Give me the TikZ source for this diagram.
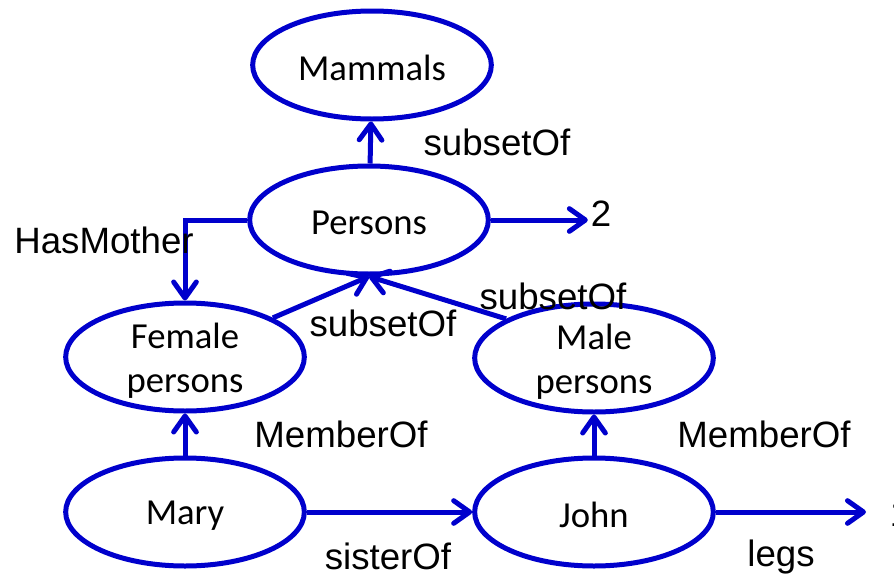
\documentclass[tikz,border=0pt]{standalone}
\usepackage{fontspec}
\setmainfont{Liberation Sans}
\newfontfamily\calibrifont{Carlito}
\usepackage{tikz}
\usetikzlibrary{shapes.geometric,arrows.meta}
\definecolor{netblue}{RGB}{0,0,204}

\begin{document}
\begin{tikzpicture}[x=0.75pt, y=-0.75pt,
  every node/.style={font=\fontsize{27.5}{33}\selectfont, inner sep=2pt},
  concept/.style={ellipse, draw=netblue, line width=3.75pt, minimum width=179pt, minimum height=81pt, inner sep=0pt},
  caption/.style={align=center, yshift=-2.5pt, font=\calibrifont\fontsize{27.5}{33}\selectfont},
  rel/.style={draw=netblue, line width=3.75pt, -{Straight Barb[length=12pt,width=17pt,round]}}]
  \useasboundingbox (0,0) rectangle (894,575);
  \foreach \n/\x/\y/\t in {mammals/372/65/Mammals, persons/369/220/Persons,
      female/185/357/{Female\\persons}, male/594/358/{Male\\persons},
      mary/185/512/Mary, john/594/512/John}{
    \node[concept] (\n) at (\x,\y) {};
    \node[caption] (\n-text) at (\n) {\t};
  }
  \node (two) at (601,214) {2};
  \node[anchor=west] (one) at (887,514) {1};
  \coordinate (legs-end) at (866,512);

  \draw[rel] (persons) -- (mammals);
  \draw[rel] (persons.east) -- (persons.east -| two.west);
  \draw[rel] (persons.west) -| (female.north);
  \draw[rel] (female.24) -- (persons.south);
  \draw[rel] (male.156) -- (persons.south);
  \draw[rel] (mary) -- (female);
  \draw[rel] (john) -- (male);
  \draw[rel] (mary) -- (john);
  \draw[rel] (john.east) -- (legs-end);

  \node (sub-top) at (497,142) {subsetOf};
  \node (has-mother) at (104,240) {HasMother};
  \node (sub-female) at (383,323) {subsetOf};
  \node (sub-male) at (553,296) {subsetOf};
  \node (member-left) at (341,434) {MemberOf};
  \node (member-right) at (764,434) {MemberOf};
  \node (sister) at (388,556) {sisterOf};
  \node (legs) at (781,557) {legs};
\end{tikzpicture}
\end{document}
